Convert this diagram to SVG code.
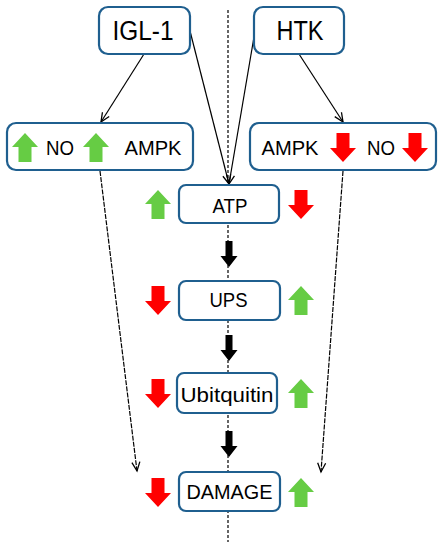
<svg xmlns="http://www.w3.org/2000/svg" width="444" height="550" viewBox="0 0 444 550">
<style>
.box{fill:#fff;stroke:#1f5f8f;stroke-width:2.2}
.t{font-family:"Liberation Sans",Arial,sans-serif;fill:#000;text-anchor:middle}
.c{stroke:#000;stroke-width:1.2;fill:none}
.d{stroke:#000;stroke-width:1.2;fill:none;stroke-dasharray:5 1.2}
.g{fill:#66cc44}
.r{fill:#ff0000}
.k{fill:#000}
</style>
<defs>
<marker id="v" markerWidth="12" markerHeight="12" refX="10" refY="5" orient="auto" markerUnits="userSpaceOnUse">
<path d="M1,1 L10,5 L1,9" fill="none" stroke="#000" stroke-width="1.3"/>
</marker>
<path id="up" d="M13,0 L26,14 L19.5,14 L19.5,29 L6.5,29 L6.5,14 L0,14 Z"/>
<path id="dn" d="M6.5,0 L19.5,0 L19.5,15 L26,15 L13,29 L0,15 L6.5,15 Z"/>
<path id="bk" d="M4,0 L11,0 L11,15 L16,15 L7.5,26 L-1,15 L4,15 Z"/>
</defs>
<line x1="228" y1="10" x2="228" y2="542" stroke="#000" stroke-width="1.2" stroke-dasharray="3 2"/>
<g id="connectors">
<line class="c" x1="144" y1="54" x2="101" y2="122" marker-end="url(#v)"/>
<line class="c" x1="190" y1="31" x2="229" y2="184" marker-end="url(#v)"/>
<line class="c" x1="255" y1="31" x2="229" y2="184" marker-end="url(#v)"/>
<line class="c" x1="299" y1="54" x2="343" y2="122" marker-end="url(#v)"/>
<line class="d" x1="100" y1="171" x2="137" y2="471" marker-end="url(#v)"/>
<line class="d" x1="343" y1="171" x2="321" y2="472" marker-end="url(#v)"/>
<use href="#bk" class="k" x="221.5" y="241"/>
<use href="#bk" class="k" x="221.5" y="335"/>
<use href="#bk" class="k" x="221.5" y="431"/>
</g>
<g id="igl1">
<rect class="box" x="99" y="7" width="91" height="47" rx="9"/>
<text class="t" x="143" y="40" font-size="27" textLength="61" lengthAdjust="spacingAndGlyphs">IGL-1</text>
</g>
<g id="htk">
<rect class="box" x="254" y="7" width="90" height="47" rx="9"/>
<text class="t" x="300" y="40" font-size="27" textLength="47" lengthAdjust="spacingAndGlyphs">HTK</text>
</g>
<g id="left-box">
<rect class="box" x="7" y="123" width="186" height="47" rx="9"/>
<use href="#up" class="g" x="12" y="133"/>
<text class="t" x="60" y="155" font-size="20" textLength="28" lengthAdjust="spacingAndGlyphs">NO</text>
<use href="#up" class="g" x="83" y="133"/>
<text class="t" x="153" y="155" font-size="20" textLength="57" lengthAdjust="spacingAndGlyphs">AMPK</text>
</g>
<g id="right-box">
<rect class="box" x="250" y="123" width="186" height="47" rx="9"/>
<text class="t" x="290" y="155" font-size="20" textLength="57" lengthAdjust="spacingAndGlyphs">AMPK</text>
<use href="#dn" class="r" x="330" y="133"/>
<text class="t" x="381" y="155" font-size="20" textLength="28" lengthAdjust="spacingAndGlyphs">NO</text>
<use href="#dn" class="r" x="402" y="133"/>
</g>
<g id="atp">
<rect class="box" x="179" y="185" width="100" height="38" rx="7"/>
<text class="t" x="230" y="213" font-size="20" textLength="35" lengthAdjust="spacingAndGlyphs">ATP</text>
<use href="#up" class="g" x="145" y="190"/>
<use href="#dn" class="r" x="288" y="190"/>
</g>
<g id="ups">
<rect class="box" x="179" y="281" width="101" height="39" rx="7"/>
<text class="t" x="228.5" y="307" font-size="20" textLength="38" lengthAdjust="spacingAndGlyphs">UPS</text>
<use href="#dn" class="r" x="145" y="286"/>
<use href="#up" class="g" x="288" y="286"/>
</g>
<g id="ubitquitin">
<rect class="box" x="177" y="373" width="100" height="40" rx="7"/>
<text class="t" x="227" y="402" font-size="21" textLength="93" lengthAdjust="spacingAndGlyphs">Ubitquitin</text>
<use href="#dn" class="r" x="145" y="379"/>
<use href="#up" class="g" x="288" y="379"/>
</g>
<g id="damage">
<rect class="box" x="179" y="472" width="101" height="39" rx="7"/>
<text class="t" x="229.5" y="499" font-size="21" textLength="86" lengthAdjust="spacingAndGlyphs">DAMAGE</text>
<use href="#dn" class="r" x="145" y="478"/>
<use href="#up" class="g" x="288" y="478"/>
</g>
</svg>
